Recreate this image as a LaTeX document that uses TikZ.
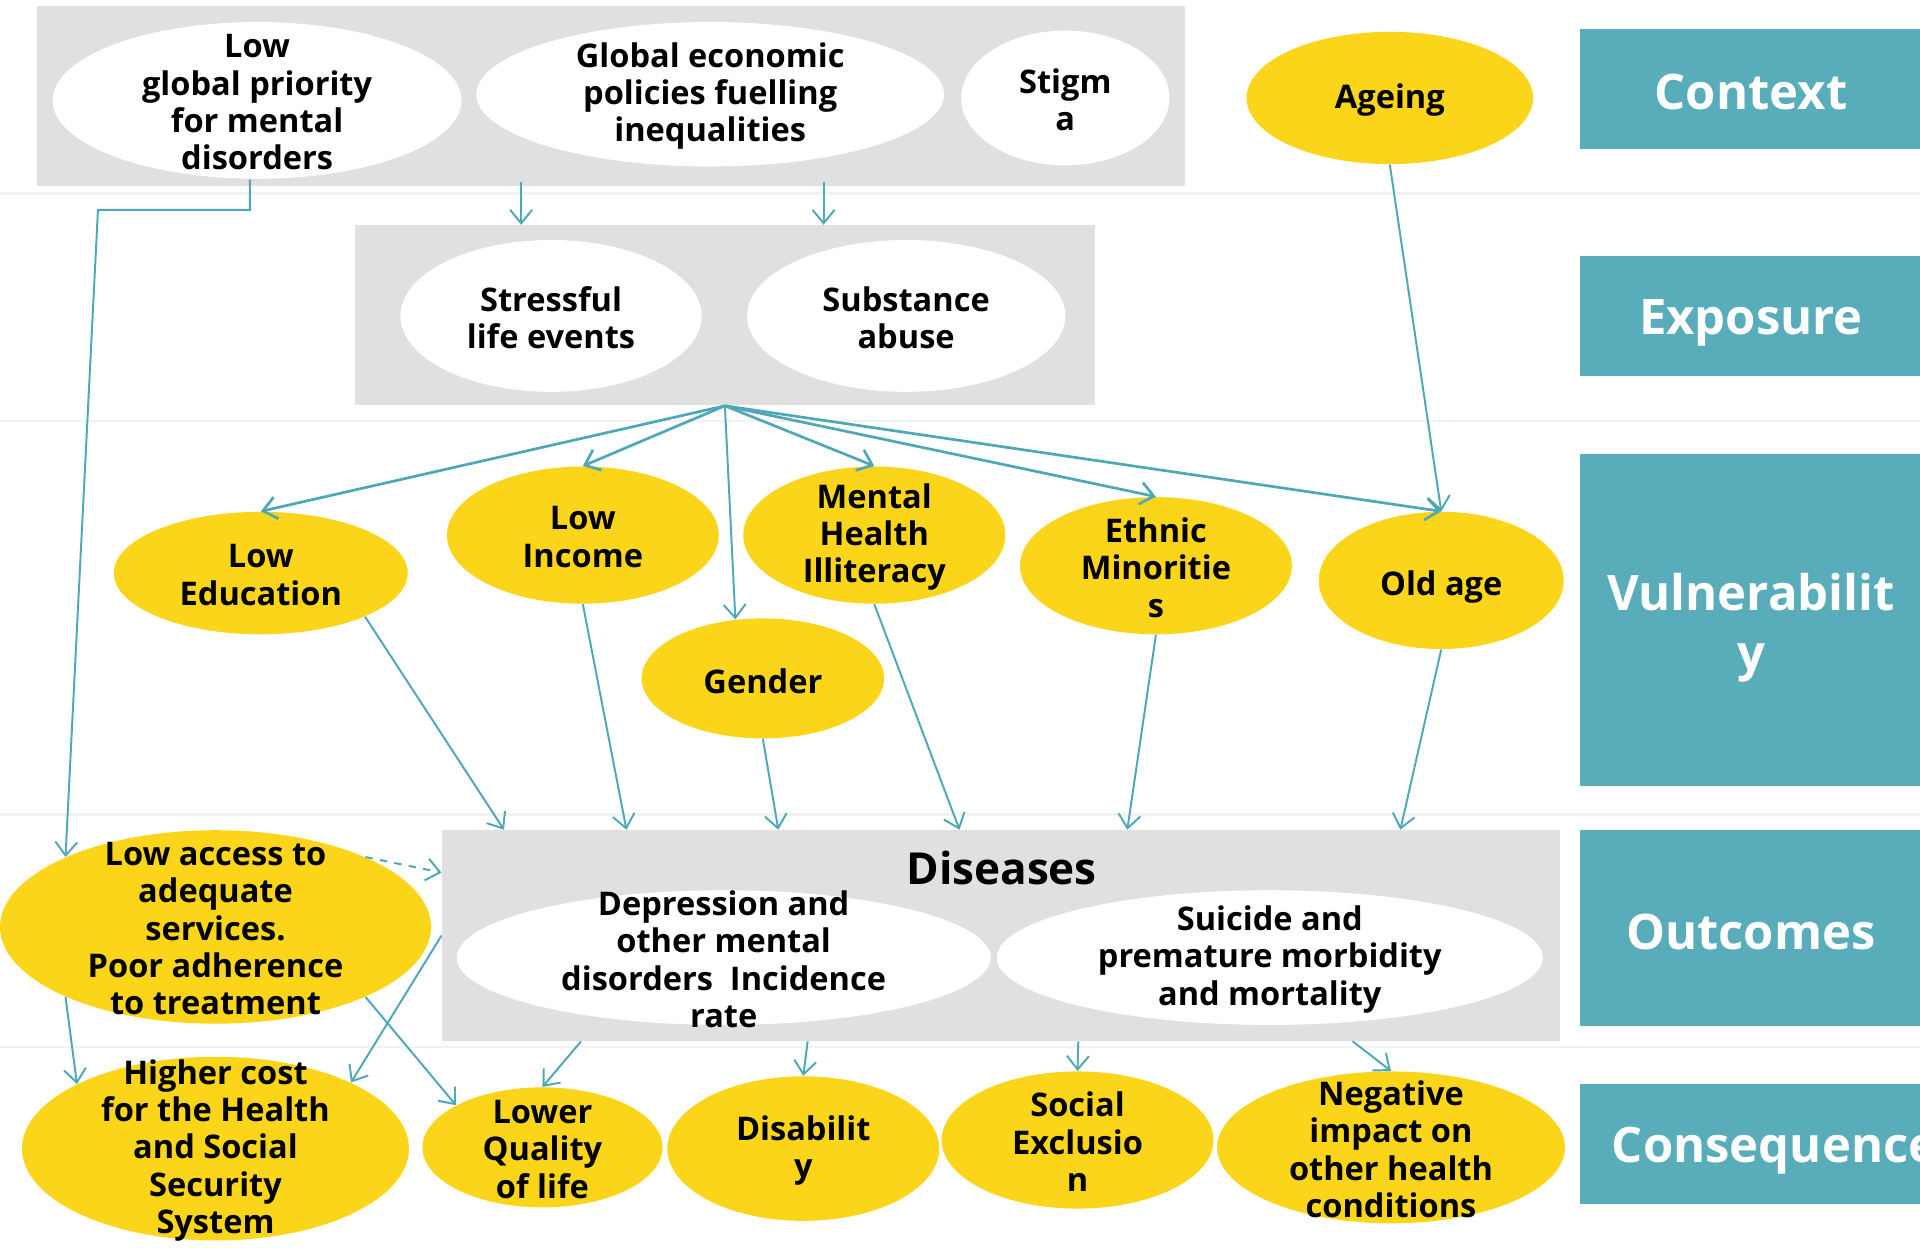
\documentclass[tikz,border=0pt]{standalone}
\usepackage{fontspec}
\setmainfont{Open Sans}
\usetikzlibrary{arrows.meta,shapes.geometric,calc}
\definecolor{tealc}{HTML}{59ACBA}
\definecolor{yellowc}{HTML}{FAD519}
\definecolor{grayc}{HTML}{E0E0E0}
\definecolor{linec}{HTML}{4FA8B7}
\definecolor{sepc}{HTML}{F2F2F2}
\begin{document}
\begin{tikzpicture}[x=0.5pt,y=-0.5pt,
  ell/.style={ellipse, inner sep=0pt, draw=none},
  whiteell/.style={ell, fill=white},
  yellowell/.style={ell, fill=yellowc},
  txt/.style={align=center, inner sep=0pt, yshift=-0.75pt, font=\fontsize{13.3}{15.25}\selectfont\bfseries},
  onetxt/.style={txt, yshift=-2pt},
  graybox/.style={rectangle, fill=grayc, inner sep=0pt, draw=none},
  tealbox/.style={rectangle, fill=tealc, inner sep=0pt, draw=none, minimum width=140pt},
  labtxt/.style={text=white, align=center, inner sep=0pt, font=\fontsize{20}{24.5}\selectfont\bfseries},
  arr/.style={draw=linec, line width=0.8pt, -{Straight Barb[length=5.5pt,width=9pt]}},
  fanarr/.style={arr, line width=1.1pt},
  dasharr/.style={arr, dashed},
  sepline/.style={draw=sepc, line width=1pt}
]
\useasboundingbox (0,0) rectangle (1568,1019);
\fill[white] (0,0) rectangle (1568,1019);

% separator lines
\foreach \yy in {158,344,665,855} \draw[sepline] (0,\yy) -- (1568,\yy);

% grey group boxes
\node[graybox, minimum width=469pt, minimum height=73.5pt] (ctx) at (499,78.5) {};
\node[graybox, minimum width=302pt, minimum height=73.5pt] (expo) at (592,257.5) {};
\node[graybox, minimum width=456.5pt, minimum height=86pt] (dis) at (817.5,764) {};

% teal level boxes
\node[tealbox, minimum height=49pt] (tctx) at (1430,73) {};
\node[tealbox, minimum height=49pt] (texp) at (1430,258) {};
\node[tealbox, minimum height=135.5pt] (tvul) at (1430,506.5) {};
\node[tealbox, minimum height=80pt] (tout) at (1430,758) {};
\node[tealbox, minimum height=49pt] (tcon) at (1430,934) {};
\node[labtxt, yshift=-1pt] at (tctx) {Context};
\node[labtxt, yshift=-3pt] at (texp) {Exposure};
\node[labtxt, yshift=-3pt] at (tvul) {Vulnerabilit\\y};
\node[labtxt, yshift=-1.5pt] at (tout) {Outcomes};
\node[labtxt, anchor=west, yshift=-3pt] at (1316,934) {Consequences};

% context
\node[whiteell, minimum width=167pt, minimum height=64pt] (lgp) at (210,82) {};
\node[txt] at (lgp) {Low\\global priority\\for mental\\disorders};
\node[whiteell, minimum width=191pt, minimum height=59pt] (gep) at (580,77) {};
\node[txt] at (gep) {Global economic\\policies fuelling\\inequalities};
\node[whiteell, minimum width=85pt, minimum height=55pt] (stig) at (870,80) {};
\node[txt] at (stig) {Stigm\\a};
\node[yellowell, minimum width=117pt, minimum height=54pt] (age) at (1135,80) {};
\node[txt] at (age) {Ageing};

% exposure
\node[whiteell, minimum width=123pt, minimum height=62pt] (stress) at (450,258) {};
\node[txt] at (stress) {Stressful\\life events};
\node[whiteell, minimum width=130pt, minimum height=62pt] (subst) at (740,258) {};
\node[txt] at (subst) {Substance\\abuse};

% vulnerability
\node[yellowell, minimum width=120pt, minimum height=50pt] (ledu) at (213,468) {};
\node[txt] at (ledu) {Low\\Education};
\node[yellowell, minimum width=111pt, minimum height=56pt] (linc) at (476,437) {};
\node[txt] at (linc) {Low\\Income};
\node[yellowell, minimum width=107pt, minimum height=56pt] (mhi) at (714,437) {};
\node[txt] at (mhi) {Mental\\Health\\Illiteracy};
\node[yellowell, minimum width=99pt, minimum height=49pt] (gend) at (623,554) {};
\node[txt, yshift=-0.5pt] at (gend) {Gender};
\node[yellowell, minimum width=111pt, minimum height=56pt] (eth) at (944,462) {};
\node[txt] at (eth) {Ethnic\\Minoritie\\s};
\node[yellowell, minimum width=100pt, minimum height=56pt] (old) at (1177,474) {};
\node[onetxt] at (old) {Old age};

% outcomes
\node[txt, font=\fontsize{18}{22}\selectfont\bfseries] (distitle) at (818,707) {Diseases};
\node[whiteell, minimum width=218pt, minimum height=55pt] (dep) at (591,782) {};
\node[txt] at (dep) {Depression and\\other mental\\disorders~~Incidence\\rate};
\node[whiteell, minimum width=223pt, minimum height=55pt] (sui) at (1037,782) {};
\node[txt] at (sui) {Suicide and\\premature morbidity\\and mortality};
\node[yellowell, minimum width=176pt, minimum height=79pt] (la) at (176,757) {};
\node[txt] at (la) {Low access to\\adequate\\services.\\Poor adherence\\to treatment};

% consequences
\node[yellowell, minimum width=158pt, minimum height=75pt] (hc) at (176,938) {};
\node[txt] at (hc) {Higher cost\\for the Health\\and Social\\Security\\System};
\node[yellowell, minimum width=98pt, minimum height=49pt] (lq) at (443,937) {};
\node[txt] at (lq) {Lower\\Quality\\of life};
\node[yellowell, minimum width=111pt, minimum height=59pt] (disab) at (656,938) {};
\node[txt] at (disab) {Disabilit\\y};
\node[yellowell, minimum width=111pt, minimum height=56pt] (soc) at (880,931) {};
\node[txt] at (soc) {Social\\Exclusio\\n};
\node[yellowell, minimum width=142pt, minimum height=62pt] (neg) at (1136,937) {};
\node[txt] at (neg) {Negative\\impact on\\other health\\conditions};

% connectors: context -> exposure
\draw[arr] ([xshift=198pt,yshift=2pt]ctx.south west) -- ([xshift=68pt]expo.north west);
\draw[arr] ([xshift=321.5pt,yshift=2pt]ctx.south west) -- ([xshift=191.5pt]expo.north west);
\draw[arr] ([xshift=-3pt]lgp.south) -- ++(0,25) -- ++(-124,0) -- (la.155);
\draw[arr] (age.south) -- (old.north);

% exposure fan
\draw[fanarr] (expo.south) -- (ledu.north);
\draw[fanarr] (expo.south) -- (linc.north);
\draw[arr] (expo.south) -- (gend.115);
\draw[fanarr] (expo.south) -- (mhi.north);
\draw[fanarr] (expo.south) -- (eth.north);
\draw[fanarr] (expo.south) -- (old.north);

% vulnerability -> diseases
\draw[arr] (ledu.south east) -- ([xshift=25.5pt]dis.north west);
\draw[arr] (linc.south) -- ([xshift=75.5pt]dis.north west);
\draw[arr] (gend.south) -- ([xshift=137.5pt]dis.north west);
\draw[arr] (mhi.south) -- ([xshift=211.5pt]dis.north west);
\draw[arr] (eth.south) -- ([xshift=280pt]dis.north west);
\draw[arr] (old.south) -- ([xshift=391.5pt]dis.north west);

% low access
\draw[dasharr] (la.25) -- ([yshift=-17.5pt]dis.north west);
\draw[arr] (la.205) -- (hc.155);
\draw[arr] (la.-25) -- (lq.154);
\draw[arr] (dis.west) -- (hc.26);

% diseases -> consequences
\draw[arr] ([xshift=57pt]dis.south west) -- (lq.north);
\draw[arr] ([xshift=149.5pt]dis.south west) -- (disab.north);
\draw[arr] ([xshift=260pt]dis.south west) -- (soc.north);
\draw[arr] ([xshift=372pt]dis.south west) -- (neg.north);
\end{tikzpicture}
\end{document}
